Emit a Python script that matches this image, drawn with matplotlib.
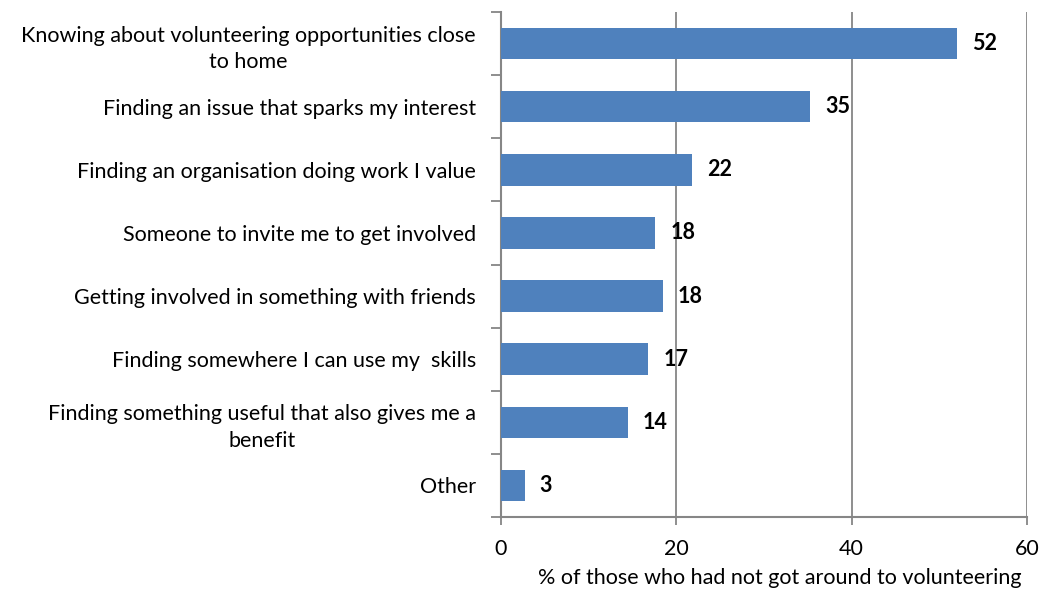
import matplotlib.pyplot as plt
import numpy as np

plt.rcParams['font.family'] = ['Lato', 'DejaVu Sans']

# data (top to bottom)
categories = [
    'Knowing about volunteering opportunities close\nto home',
    'Finding an issue that sparks my interest',
    'Finding an organisation doing work I value',
    'Someone to invite me to get involved',
    'Getting involved in something with friends',
    'Finding somewhere I can use my  skills',
    'Finding something useful that also gives me a\nbenefit',
    'Other',
]
values = [52.0, 35.3, 21.8, 17.6, 18.5, 16.8, 14.5, 2.7]
value_labels = ['52', '35', '22', '18', '18', '17', '14', '3']

grey = '#868686'
blue = '#4F81BD'

fig = plt.figure(figsize=(10.49, 5.96), dpi=100)
ax = fig.add_axes([501 / 1049, 1 - 517 / 596, 526 / 1049, 505 / 596])

y = np.arange(len(categories))
ax.barh(y, values, height=0.5, color=blue, zorder=3)
ax.set_ylim(len(categories) - 0.5, -0.5)
ax.set_xlim(0, 60)

# value labels
for yi, v, lab in zip(y, values, value_labels):
    ax.text(v + 1.7, yi, lab, va='center', ha='left', fontsize=15.5,
            fontweight='bold', zorder=4)

# gridlines
ax.set_xticks([0, 20, 40, 60])
ax.xaxis.grid(True, color=grey, linewidth=1.3, zorder=0)
ax.tick_params(axis='x', length=6, width=1.3, color=grey, labelsize=15.5, pad=10)

# category labels, ticks between categories
ax.set_yticks(y)
ax.set_yticklabels(categories, fontsize=15.5, multialignment='center',
                   linespacing=1.4)
ax.tick_params(axis='y', length=0, pad=18)
ax.set_yticks(np.arange(-0.5, len(categories), 1), minor=True)
ax.tick_params(axis='y', which='minor', length=7, width=1.3, color=grey)

for s in ['top', 'right']:
    ax.spines[s].set_visible(False)
for s in ['left', 'bottom']:
    ax.spines[s].set_color(grey)
    ax.spines[s].set_linewidth(1.5)

ax.set_xlabel('% of those who had not got around to volunteering', fontsize=15.5)
ax.xaxis.set_label_coords(0.99, -0.1)
ax.xaxis.label.set_ha('right')

fig.savefig('out.png', dpi=100)
